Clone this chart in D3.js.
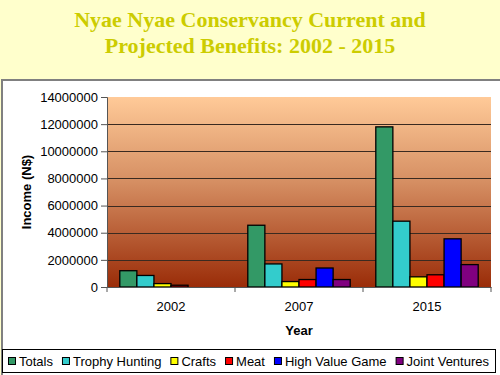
<!DOCTYPE html>
<html>
<head>
<meta charset="utf-8">
<script src="https://cdn.jsdelivr.net/npm/d3@7"></script>
<style>
body { margin: 0; background: #FFFFCC; }
svg { display: block; }
</style>
</head>
<body>
<div id="chart-area"></div>
<script>
// data
var years = ["2002", "2007", "2015"];
var seriesNames = ["Totals", "Trophy Hunting", "Crafts", "Meat", "High Value Game", "Joint Ventures"];
var totals = [1200000, 4550000, 11800000];
var trophyHunting = [850000, 1700000, 4850000];
var crafts = [250000, 400000, 750000];
var meat = [130000, 550000, 900000];
var highValueGame = [0, 1400000, 3550000];
var jointVentures = [0, 550000, 1650000];
var yTicks = [0, 2000000, 4000000, 6000000, 8000000, 10000000, 12000000, 14000000];

var seriesValues = [totals, trophyHunting, crafts, meat, highValueGame, jointVentures];
var seriesColors = ["#339966", "#33CCCC", "#FFFF00", "#FF0000", "#0000FF", "#800080"];

var W = 500, H = 375;
var plot = { left: 107, right: 491, top: 97, bottom: 287 };

var svg = d3.select("#chart-area")
	.append("svg")
	.attr("width", W)
	.attr("height", H);

// Title
var title = svg.append("text")
	.attr("x", 250)
	.attr("text-anchor", "middle")
	.attr("font-family", "Liberation Serif, Times New Roman, serif")
	.attr("font-weight", "bold")
	.attr("font-size", "22px")
	.attr("fill", "#CCCC00");
title.append("tspan").attr("x", 250).attr("y", 27).text("Nyae Nyae Conservancy Current and");
title.append("tspan").attr("x", 250).attr("y", 53).text("Projected Benefits: 2002 - 2015");

// Chart area box
svg.append("rect")
	.attr("x", 2)
	.attr("y", 80)
	.attr("width", W + 10)
	.attr("height", H)
	.attr("fill", "#FFFFFF")
	.attr("stroke", "#808080")
	.attr("stroke-width", 2);

// Plot gradient
var defs = svg.append("defs");
var grad = defs.append("linearGradient")
	.attr("id", "plotGrad")
	.attr("x1", 0).attr("y1", 0).attr("x2", 0).attr("y2", 1);
grad.append("stop").attr("offset", "0%").attr("stop-color", "#FFCA98");
grad.append("stop").attr("offset", "45%").attr("stop-color", "#D58E62");
grad.append("stop").attr("offset", "100%").attr("stop-color", "#9A2C08");

svg.append("rect")
	.attr("x", plot.left)
	.attr("y", plot.top)
	.attr("width", plot.right - plot.left)
	.attr("height", plot.bottom - plot.top)
	.attr("fill", "url(#plotGrad)");

// Scales
var x0 = d3.scaleBand()
	.domain(years)
	.range([plot.left, plot.right]);

var inset = x0.bandwidth() * 0.1;
var x1 = d3.scaleBand()
	.domain(seriesNames)
	.range([inset, x0.bandwidth() - inset]);

var y = d3.scaleLinear()
	.domain([0, 14000000])
	.range([plot.bottom, plot.top]);

// Gridlines
svg.append("g")
	.selectAll("line")
	.data(yTicks.filter(function (d) { return d > 0 && d < 14000000; }))
	.enter()
	.append("line")
	.attr("x1", plot.left)
	.attr("x2", plot.right)
	.attr("y1", function (d) { return Math.round(y(d)) + 0.5; })
	.attr("y2", function (d) { return Math.round(y(d)) + 0.5; })
	.attr("stroke", "#3A2A20")
	.attr("stroke-width", 1);

// Y Axis
var yAxis = d3.axisLeft(y)
	.tickValues(yTicks)
	.tickFormat(d3.format("d"))
	.tickSize(6)
	.tickPadding(3);

var yg = svg.append("g")
	.attr("transform", "translate(" + plot.left + ",0)")
	.call(yAxis);
yg.selectAll("text")
	.attr("font-family", "Liberation Sans, Arial, sans-serif")
	.attr("font-size", "13px")
	.attr("fill", "#000");
yg.selectAll("line, path").attr("stroke", "#555");

// Bars
var groups = svg.append("g")
	.selectAll("g")
	.data(years)
	.enter()
	.append("g")
	.attr("transform", function (d) { return "translate(" + x0(d) + ",0)"; });

groups.selectAll("rect")
	.data(function (d, i) {
		return seriesNames.map(function (s, j) {
			return { series: s, value: seriesValues[j][i], color: seriesColors[j] };
		});
	})
	.enter()
	.append("rect")
	.filter(function (d) { return d.value > 0; })
	.attr("x", function (d) { return x1(d.series); })
	.attr("width", x1.bandwidth())
	.attr("y", function (d) { return y(d.value); })
	.attr("height", function (d) { return y(0) - y(d.value); })
	.attr("fill", function (d) { return d.color; })
	.attr("stroke", "#000")
	.attr("stroke-width", 1.3);

// X Axis
var xAxis = d3.axisBottom(x0)
	.tickSize(0)
	.tickPadding(15);

var xg = svg.append("g")
	.attr("transform", "translate(0," + plot.bottom + ")")
	.call(xAxis);
xg.selectAll("text")
	.attr("font-family", "Liberation Sans, Arial, sans-serif")
	.attr("font-size", "13px")
	.attr("fill", "#000");
xg.select("path").attr("stroke", "#555");

// category boundary ticks
xg.selectAll(".bound")
	.data(years.concat(["end"]))
	.enter()
	.append("line")
	.attr("class", "bound")
	.attr("x1", function (d, i) { return i < years.length ? x0(d) : plot.right; })
	.attr("x2", function (d, i) { return i < years.length ? x0(d) : plot.right; })
	.attr("y1", 0)
	.attr("y2", 5)
	.attr("stroke", "#555");

// X Label
svg.append("text")
	.attr("x", (plot.left + plot.right) / 2)
	.attr("y", 335)
	.attr("text-anchor", "middle")
	.attr("font-family", "Liberation Sans, Arial, sans-serif")
	.attr("font-weight", "bold")
	.attr("font-size", "13px")
	.text("Year");

// Y Label
svg.append("text")
	.attr("x", -192)
	.attr("y", 31)
	.attr("text-anchor", "middle")
	.attr("transform", "rotate(-90)")
	.attr("font-family", "Liberation Sans, Arial, sans-serif")
	.attr("font-weight", "bold")
	.attr("font-size", "13px")
	.text("Income (N$)");

// Legend
var legend = svg.append("g").attr("class", "legend");
legend.append("rect")
	.attr("x", 2.5)
	.attr("y", 349.5)
	.attr("width", 493)
	.attr("height", 23)
	.attr("fill", "#FFFFFF")
	.attr("stroke", "#000")
	.attr("stroke-width", 1);

var lx = 8;
seriesNames.forEach(function (s, i) {
	legend.append("rect")
		.attr("x", lx + 0.5)
		.attr("y", 357.5)
		.attr("width", 7)
		.attr("height", 7)
		.attr("fill", seriesColors[i])
		.attr("stroke", "#000");
	var t = legend.append("text")
		.attr("x", lx + 11)
		.attr("y", 366)
		.attr("font-family", "Liberation Sans, Arial, sans-serif")
		.attr("font-size", "13px")
		.text(s);
	lx += 11 + t.node().getComputedTextLength() + 9;
});
</script>
</body>
</html>
